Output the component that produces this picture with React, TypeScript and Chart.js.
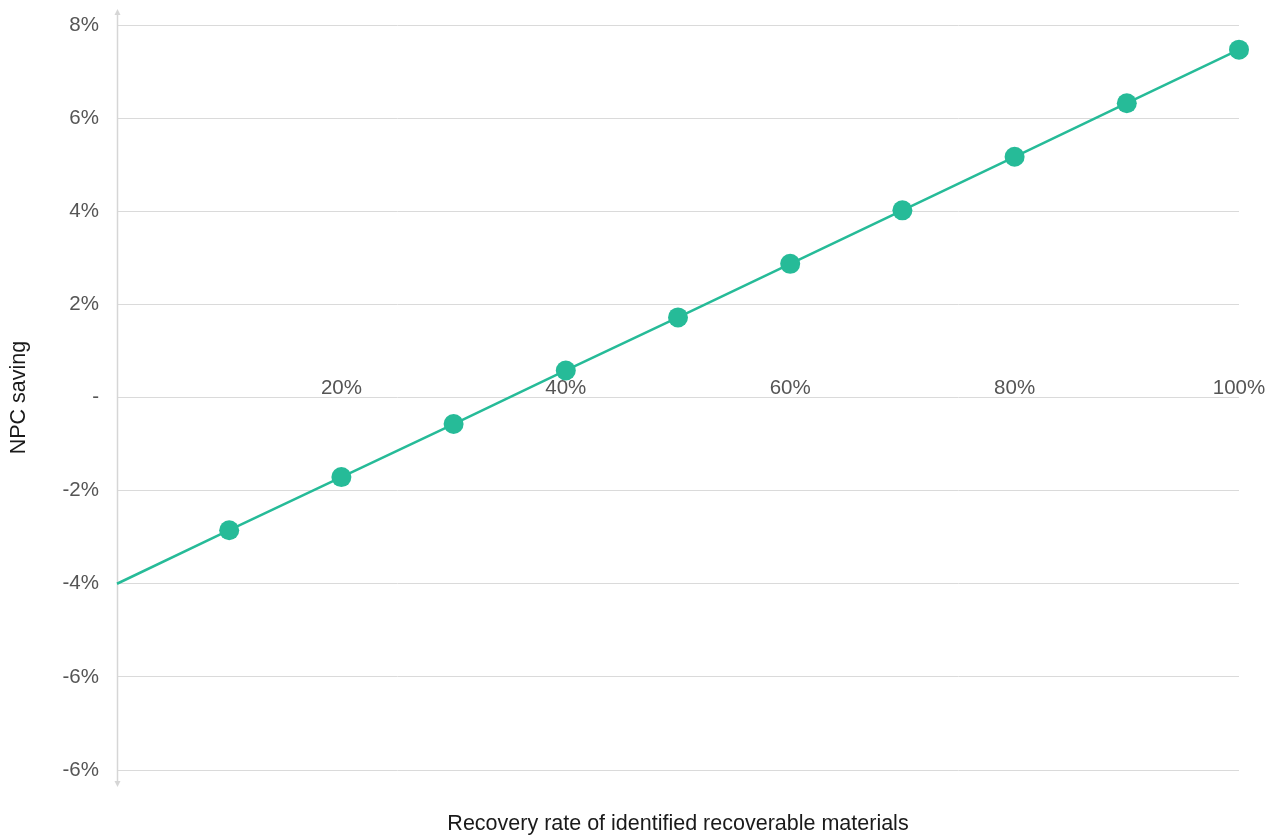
import React, { useEffect, useRef } from "react";
import { Chart, registerables } from "chart.js";

Chart.register(...registerables);

const recoveryRates = [0, 10, 20, 30, 40, 50, 60, 70, 80, 90, 100];
const npcSaving = [-4.0, -2.85, -1.71, -0.57, 0.58, 1.72, 2.87, 4.02, 5.17, 6.32, 7.47];
const yTickValues = [8, 6, 4, 2, 0, -2, -4, -6, -8];
const yTickLabels = ["8%", "6%", "4%", "2%", "-", "-2%", "-4%", "-6%", "-6%"];
const xTickValues = [0, 20, 40, 60, 80, 100];
const xTickLabels = ["", "20%", "40%", "60%", "80%", "100%"];
const yTitle = "NPC saving";
const xTitle = "Recovery rate of identified recoverable materials";

const GREEN = "#26bb98";
const FONT = "'Liberation Sans', Arial, Helvetica, sans-serif";

const axisArrowPlugin = {
  id: "axisArrow",
  beforeDatasetsDraw(chart: any) {
    const { ctx, chartArea } = chart;
    const x = chartArea.left + 0.5;
    const top = chartArea.top - 11;
    const bottom = chartArea.bottom + 12;
    ctx.save();
    ctx.strokeStyle = "#d6d6d6";
    ctx.fillStyle = "#d6d6d6";
    ctx.lineWidth = 1.5;
    ctx.beginPath();
    ctx.moveTo(x, top);
    ctx.lineTo(x, bottom);
    ctx.stroke();
    ctx.beginPath();
    ctx.moveTo(x, top - 5);
    ctx.lineTo(x - 3, top + 1);
    ctx.lineTo(x + 3, top + 1);
    ctx.closePath();
    ctx.fill();
    ctx.beginPath();
    ctx.moveTo(x, bottom + 5);
    ctx.lineTo(x - 3, bottom - 1);
    ctx.lineTo(x + 3, bottom - 1);
    ctx.closePath();
    ctx.fill();
    ctx.restore();
  },
};

export default function App() {
  const canvasRef = useRef<HTMLCanvasElement | null>(null);

  useEffect(() => {
    if (!canvasRef.current) return;
    const chart = new Chart(canvasRef.current, {
      type: "line",
      data: {
        datasets: [
          {
            data: recoveryRates.map((r, i) => ({ x: r, y: npcSaving[i] })),
            borderColor: GREEN,
            backgroundColor: GREEN,
            borderWidth: 2.5,
            pointRadius: (c: any) => (c.dataIndex === 0 ? 0 : 10),
            pointHoverRadius: (c: any) => (c.dataIndex === 0 ? 0 : 10),
            pointBorderWidth: 0,
            pointBackgroundColor: GREEN,
            tension: 0,
            clip: false,
            xAxisID: "x",
            yAxisID: "y",
          },
        ],
      },
      options: {
        animation: false,
        responsive: true,
        maintainAspectRatio: false,
        layout: { padding: { top: 25, right: 36, left: 0, bottom: 0 } },
        plugins: {
          legend: { display: false },
          tooltip: { enabled: false },
        },
        scales: {
          x: {
            type: "linear",
            position: "bottom",
            min: 0,
            max: 100,
            grid: { display: false },
            border: { display: false },
            ticks: { display: false },
            title: {
              display: true,
              text: xTitle,
              color: "#1a1a1a",
              font: { family: FONT, size: 21.5 },
              padding: { top: 0, bottom: 0 },
            },
            afterFit: (s: any) => {
              s.height = 67;
              s.paddingTop = 0;
              s.paddingBottom = 0;
            },
          },
          x2: {
            type: "linear",
            position: { y: 0 },
            min: 0,
            max: 100,
            afterBuildTicks: (s: any) => {
              s.ticks = xTickValues.map((v) => ({ value: v }));
            },
            grid: { display: false, drawTicks: false },
            border: { display: false },
            ticks: {
              padding: -21,
              maxRotation: 0,
              autoSkip: false,
              color: "#555",
              font: { family: FONT, size: 20.5 },
              callback: (v: any) => {
                const i = xTickValues.indexOf(Number(v));
                return i >= 0 ? xTickLabels[i] : "";
              },
            },
            afterFit: (s: any) => {
              s.paddingTop = 0;
              s.paddingBottom = 0;
            },
          },
          y: {
            type: "linear",
            min: -8,
            max: 8,
            afterBuildTicks: (s: any) => {
              s.ticks = yTickValues.map((v) => ({ value: v }));
            },
            grid: { color: "#dadada", lineWidth: 1, drawTicks: false },
            border: { display: false },
            ticks: {
              padding: 18,
              color: "#555",
              font: { family: FONT, size: 20.5 },
              callback: (v: any) => {
                const i = yTickValues.indexOf(Number(v));
                return i >= 0 ? yTickLabels[i] : "";
              },
            },
            title: {
              display: true,
              text: yTitle,
              color: "#1a1a1a",
              font: { family: FONT, size: 21.5 },
              padding: { top: 6, bottom: 0 },
            },
            afterFit: (s: any) => {
              s.width = 117;
              s.paddingTop = 0;
              s.paddingBottom = 0;
            },
          },
        },
      },
      plugins: [axisArrowPlugin],
    } as any);
    return () => chart.destroy();
  }, []);

  return (
    <div style={{ position: "fixed", left: 0, top: 0, width: 1275, height: 837 }}>
      <canvas ref={canvasRef} />
    </div>
  );
}
